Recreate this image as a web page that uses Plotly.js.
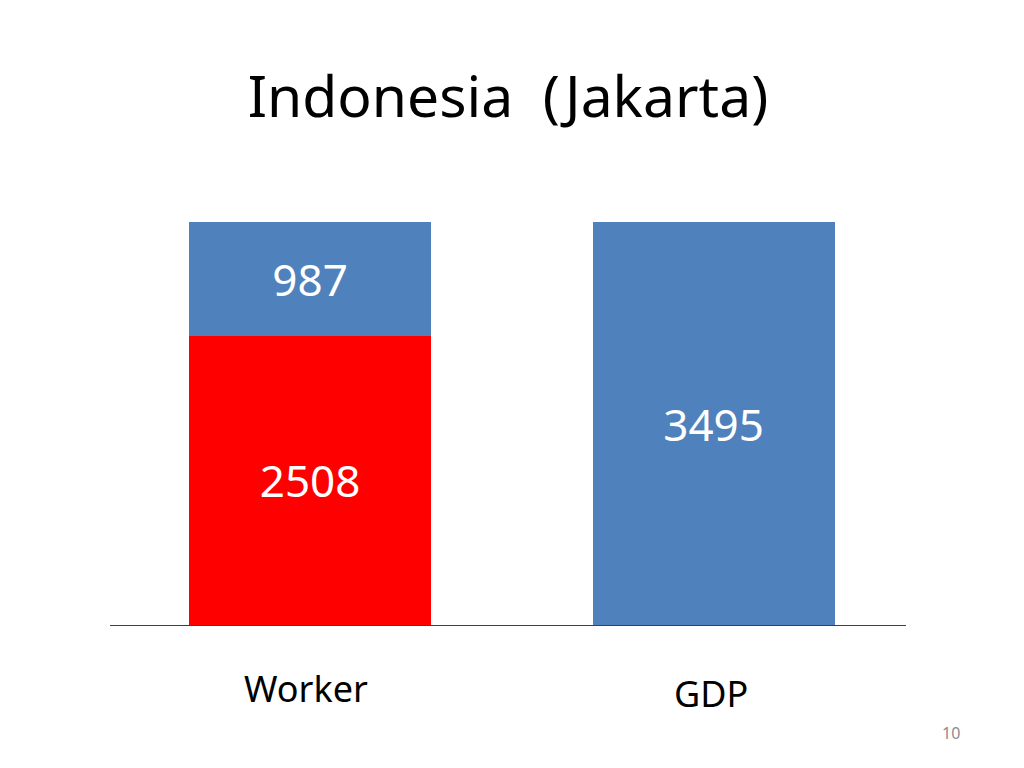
<!DOCTYPE html>
<html>
<head>
<meta charset="utf-8">
<script src="https://cdn.plot.ly/plotly-3.0.1.min.js"></script>
<style>
  html, body { margin: 0; padding: 0; background: #fff; }
  #chart { width: 1024px; height: 768px; }
</style>
</head>
<body>
<div id="chart"></div>
<script>
// data
const categories = ["Worker", "GDP"];
const redValues = [2508, null];
const blueValues = [987, 3495];
const labelOffsets = [0, 5]; // the two category text boxes sit at slightly different heights
const labelNudge = [-4, -3];

const font = "Noto Sans, Open Sans, sans-serif";

const traces = [
  {
    x: categories,
    y: redValues,
    type: "bar",
    marker: { color: "#ff0000" },
    text: redValues.map(v => v == null ? "" : String(v)),
    textposition: "inside",
    insidetextanchor: "middle",
    textfont: { color: "#ffffff", size: 44, family: font },
    hoverinfo: "none"
  },
  {
    x: categories,
    y: blueValues,
    type: "bar",
    marker: { color: "#4f81bd" },
    text: blueValues.map(v => String(v)),
    textposition: "inside",
    insidetextanchor: "middle",
    textfont: { color: "#ffffff", size: 44, family: font },
    hoverinfo: "none"
  }
];

const annotations = categories.map((c, i) => ({
  x: c,
  y: 0,
  xref: "x",
  yref: "y",
  yanchor: "top",
  yshift: -37 - labelOffsets[i],
  xshift: labelNudge[i],
  text: c,
  showarrow: false,
  font: { size: 36, color: "#000", family: font }
}));

// page number, bottom right corner of the slide
annotations.push({
  x: (951 - 110) / 796,
  y: (768 - 143 - 733) / 403,
  xref: "paper", yref: "paper",
  xanchor: "center", yanchor: "middle",
  text: "10", showarrow: false,
  font: { size: 16, color: "#8c8c8c", family: font }
});

const layout = {
  width: 1024,
  height: 768,
  paper_bgcolor: "#ffffff",
  plot_bgcolor: "#ffffff",
  margin: { l: 110, r: 118, t: 222, b: 143 },
  barmode: "stack",
  bargap: 0.4,
  showlegend: false,
  title: {
    text: "Indonesia  (Jakarta)",
    font: { size: 57, color: "#000", family: font },
    x: 0.5,
    xref: "paper",
    xanchor: "center",
    y: 1 - 97 / 768,
    yref: "container",
    yanchor: "middle"
  },
  xaxis: {
    range: [-0.496, 1.477],
    showticklabels: false,
    ticks: "",
    showgrid: false,
    zeroline: false,
    showline: true,
    linecolor: "#404040",
    linewidth: 1
  },
  yaxis: {
    range: [0, 3495],
    visible: false,
    showgrid: false,
    zeroline: false
  },
  annotations: annotations
};

Plotly.newPlot("chart", traces, layout, { displayModeBar: false, staticPlot: true });
</script>
</body>
</html>
